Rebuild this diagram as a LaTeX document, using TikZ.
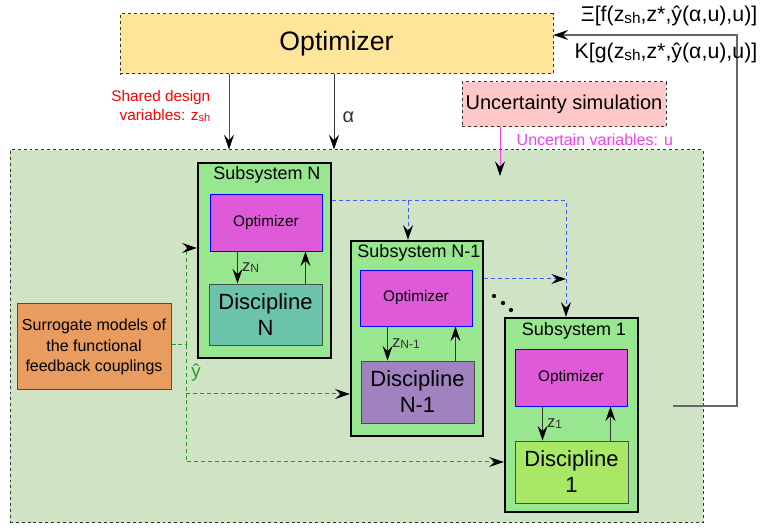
\documentclass[tikz,border=0pt]{standalone}
\usepackage{fontspec}
\setmainfont{Liberation Sans}
\usetikzlibrary{arrows.meta,fit}
\definecolor{optyellow}{HTML}{FFE599}
\definecolor{uncpink}{HTML}{FFC8C8}
\definecolor{regiongreen}{HTML}{D0E3C4}
\definecolor{subgreen}{HTML}{98E68F}
\definecolor{optmagenta}{HTML}{DE5AD9}
\definecolor{disteal}{HTML}{6CC3AC}
\definecolor{dispurple}{HTML}{A182C0}
\definecolor{dislime}{HTML}{A8E866}
\definecolor{surorange}{HTML}{E89C5F}
\definecolor{fbblue}{HTML}{4060F0}
\definecolor{fbgreen}{HTML}{22A022}
\definecolor{varmagenta}{HTML}{F040F0}
\newcommand{\lowsub}[1]{\raisebox{-0.15ex}{\scalebox{0.72}{#1}}}
\begin{document}
\begin{tikzpicture}[x=0.75pt,y=-0.75pt]
\tikzstyle{box} = [draw,rectangle,inner sep=0pt]
\tikzstyle{dashbox} = [box,draw=black!80,dash pattern=on 2.2pt off 2.2pt,line width=0.75pt]
\tikzstyle{subbox} = [box,fill=subgreen,line width=1.8pt]
\tikzstyle{innopt} = [box,fill=optmagenta,draw=blue,line width=0.7pt,label={[font=\fontsize{11.5}{13}\selectfont]center:Optimizer}]
\tikzstyle{disbox} = [box,draw=black!70,line width=0.7pt]
\tikzstyle{distext} = [align=center,font=\fontsize{16.5}{19.5}\selectfont]
\tikzstyle{title} = [font=\fontsize{13.5}{16}\selectfont]
\tikzstyle{zlab} = [right,font=\fontsize{12.5}{15}\selectfont,inner sep=3pt]
\tikzstyle{arr} = [-{Stealth[length=11pt,width=7.5pt,inset=4pt,black]}]
\tikzstyle{bluedash} = [fbblue,dash pattern=on 3pt off 2.2pt,line width=0.75pt]
\tikzstyle{greendash} = [fbgreen,dash pattern=on 3pt off 2.2pt,line width=0.75pt]

\useasboundingbox (0,0) rectangle (769,531);

% top level
\node[dashbox,fill=optyellow,fit={(120,14) (553,74)},label={[font=\fontsize{20}{24}\selectfont]center:Optimizer}] (opt) {};
\node[dashbox,fill=uncpink,fit={(462,82) (666,127)},label={[font=\fontsize{15}{18}\selectfont]center:Uncertainty simulation}] (unc) {};
\node[dashbox,fill=regiongreen,fit={(10,150) (703,523)}] (reg) {};

\coordinate (zx) at (229,0);
\coordinate (ax) at (334,0);
\coordinate (uend) at (500,176);
\draw[red,arr,line width=0.75pt] (opt.south -| zx) -- (reg.north -| zx);
\node[red,anchor=east,align=right,font=\fontsize{11.5}{14.3}\selectfont] (zlab) at (215,106) {Shared design\\variables: z\lowsub{sh}};
\draw[black!80,arr,line width=0.75pt] (opt.south -| ax) -- node[right,font=\fontsize{15}{18}\selectfont,inner sep=6pt,yshift=-4pt] {α} (reg.north -| ax);
\draw[varmagenta,arr,line width=0.75pt] (unc.south -| uend) -- (uend);
\node[varmagenta,anchor=west,font=\fontsize{12}{14}\selectfont] (ulab) at (512,140) {Uncertain variables: u};

% subsystems
\node[subbox,fit={(198,163) (331,358)}] (subN) {};
\node[subbox,fit={(351,241) (483,436)}] (subM) {};
\node[subbox,fit={(505,318) (638,512)}] (sub1) {};
\node[title] (tN) at (267,175) {Subsystem N};
\node[title] (tM) at (419,253) {Subsystem N-1};
\node[title] (t1) at (574,331) {Subsystem 1};
\node[innopt,fit={(210,194) (322,251)}] (optN) {};
\node[innopt,fit={(360,270) (472,326)}] (optM) {};
\node[innopt,fit={(515,349) (627,406)}] (opt1) {};
\node[disbox,fill=disteal,fit={(209,284) (322,345)},label={[distext]center:Discipline\\N}] (disN) {};
\node[disbox,fill=dispurple,fit={(361,361) (474,423)},label={[distext]center:Discipline\\N-1}] (disM) {};
\node[disbox,fill=dislime,fit={(515,441) (628,503)},label={[distext]center:Discipline\\1}] (dis1) {};

\foreach \s/\z in {N/N,M/N-1,1/1}{
  \draw[arr,black!80,line width=0.75pt] ([xshift=21pt]opt\s.south west) -- node[zlab] {z\lowsub{\z}} ([xshift=21pt]opt\s.south west |- dis\s.north);
  \draw[arr,black!80,line width=0.75pt] ([xshift=-12.75pt]opt\s.south east |- dis\s.north) -- ([xshift=-12.75pt]opt\s.south east);
}

% couplings between subsystems
\coordinate (bj) at (566,201);
\coordinate (bm) at (408,201);
\coordinate (bk) at (566,279);
\draw[bluedash,arr] (bj -| subN.east) -- (bj) -- (bj |- sub1.north);
\draw[bluedash,arr] (bm) -- (bm |- subM.north);
\draw[bluedash,arr] (bk -| subM.east) -- (bk);
\foreach \p in {(494,296),(503,303),(511,310)}
  \fill \p circle (1.6pt);

% surrogate feedback
\node[box,fill=surorange,draw=black!70,line width=0.75pt,fit={(17,304) (171,390)},label={[align=center,font=\fontsize{12}{15.4}\selectfont]center:Surrogate models of\\the functional\\feedback couplings}] (sur) {};
\coordinate (gy) at (186,345);
\coordinate (gt) at (186,248);
\coordinate (gm) at (186,394);
\coordinate (gb) at (186,462);
\draw[greendash] (sur.east |- gy) -- (gy);
\draw[greendash,arr] (gy) -- (gt) -- (gt -| subN.west);
\draw[greendash,arr] (gm) -- (gm -| subM.west);
\draw[greendash,arr] (gy) -- (gb) -- (gb -| sub1.west);
\node[fbgreen,font=\fontsize{14}{16}\selectfont] (yhat) at (196,373) {ŷ};

% objective and constraints back to the optimizer
\coordinate (fbs) at (673,406);
\coordinate (fbc) at (737,35);
\draw[black!60,arr,line width=0.8pt] (fbs) -| (fbc) -- (fbc -| opt.east);
\node[anchor=east,font=\fontsize{16}{19}\selectfont] (xilab) at (762,16) {Ξ[f(z\lowsub{sh},z*,ŷ(α,u),u)]};
\node[anchor=east,font=\fontsize{16}{19}\selectfont] (klab) at (762,53) {K[g(z\lowsub{sh},z*,ŷ(α,u),u)]};
\end{tikzpicture}
\end{document}
